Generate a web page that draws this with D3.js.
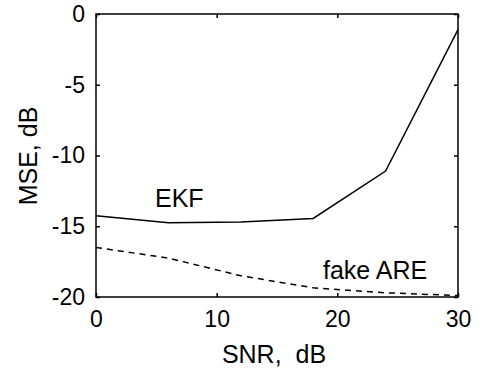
<!DOCTYPE html>
<html>
<head>
<meta charset="utf-8">
<script src="https://cdn.jsdelivr.net/npm/d3@7"></script>
<style>
  body { margin: 0; background: #fff; }
  text { font-family: "Liberation Sans", Arial, sans-serif; fill: #000; white-space: pre; }
</style>
</head>
<body>
<div id="chart"></div>
<script>
// Data
const snr = [0, 6, 12, 18, 24, 30]
const ekf = [-14.25, -14.75, -14.7, -14.45, -11.1, -1.1]
const fakeAre = [-16.5, -17.25, -18.5, -19.35, -19.7, -19.9]
const xTicks = [0, 10, 20, 30]
const yTicks = [0, -5, -10, -15, -20]

const dimensions = {
    width: 483,
    height: 372,
    margin: { top: 14, right: 25, bottom: 75, left: 96 }
}
dimensions.boundedWidth = dimensions.width - dimensions.margin.left - dimensions.margin.right
dimensions.boundedHeight = dimensions.height - dimensions.margin.top - dimensions.margin.bottom

const svg = d3.select("#chart").append("svg")
    .attr("width", dimensions.width)
    .attr("height", dimensions.height)

const bounds = svg.append("g")
    .attr("transform", `translate(${dimensions.margin.left},${dimensions.margin.top})`)

const xScale = d3.scaleLinear().domain([0, 30]).range([0, dimensions.boundedWidth])
const yScale = d3.scaleLinear().domain([-20, 0]).range([dimensions.boundedHeight, 0])

// box
bounds.append("rect")
    .attr("width", dimensions.boundedWidth)
    .attr("height", dimensions.boundedHeight)
    .attr("fill", "none")
    .attr("stroke", "#000")
    .attr("stroke-width", 1.5)

const tickLen = 4
const tickFont = "23px"
const labelFont = "25px"

// axes, ticks pointing inward like matlab, plain hyphen for minus
const fmt = d => String(d)
const xAxis = bounds.append("g")
    .attr("transform", `translate(0,${dimensions.boundedHeight})`)
    .call(d3.axisBottom(xScale).tickValues(xTicks).tickFormat(fmt).tickSizeInner(-tickLen).tickSizeOuter(0).tickPadding(14))
const yAxis = bounds.append("g")
    .call(d3.axisLeft(yScale).tickValues(yTicks).tickFormat(fmt).tickSizeInner(-tickLen).tickSizeOuter(0).tickPadding(11))
const xTop = bounds.append("g")
    .call(d3.axisTop(xScale).tickValues(xTicks).tickSizeInner(-tickLen).tickSizeOuter(0).tickFormat(""))
const yRight = bounds.append("g")
    .attr("transform", `translate(${dimensions.boundedWidth},0)`)
    .call(d3.axisRight(yScale).tickValues(yTicks).tickSizeInner(-tickLen).tickSizeOuter(0).tickFormat(""))

;[xAxis, yAxis, xTop, yRight].forEach(a => {
    a.select(".domain").remove()
    a.selectAll(".tick line").attr("stroke", "#000").attr("stroke-width", 1.5)
    a.selectAll(".tick text").style("font-size", tickFont).attr("fill", "#000")
})

// lines
const line = d3.line()
    .x((d, i) => xScale(snr[i]))
    .y(d => yScale(d))

bounds.append("path")
    .attr("d", line(ekf))
    .attr("fill", "none")
    .attr("stroke", "#000")
    .attr("stroke-width", 1.5)

bounds.append("path")
    .attr("d", line(fakeAre))
    .attr("fill", "none")
    .attr("stroke", "#000")
    .attr("stroke-width", 1.5)
    .attr("stroke-dasharray", "6,5")

// labels
bounds.append("text")
    .attr("x", 155 - dimensions.margin.left)
    .attr("y", 207 - dimensions.margin.top)
    .style("font-size", labelFont)
    .text("EKF")

bounds.append("text")
    .attr("x", 323 - dimensions.margin.left)
    .attr("y", 279 - dimensions.margin.top)
    .style("font-size", labelFont)
    .text("fake ARE")

svg.append("text")
    .attr("x", 274)
    .attr("y", 363)
    .attr("text-anchor", "middle")
    .style("font-size", labelFont)
    .text("SNR,  dB")

svg.append("text")
    .attr("transform", `translate(37,156) rotate(-90)`)
    .attr("text-anchor", "middle")
    .style("font-size", labelFont)
    .text("MSE, dB")
</script>
</body>
</html>
